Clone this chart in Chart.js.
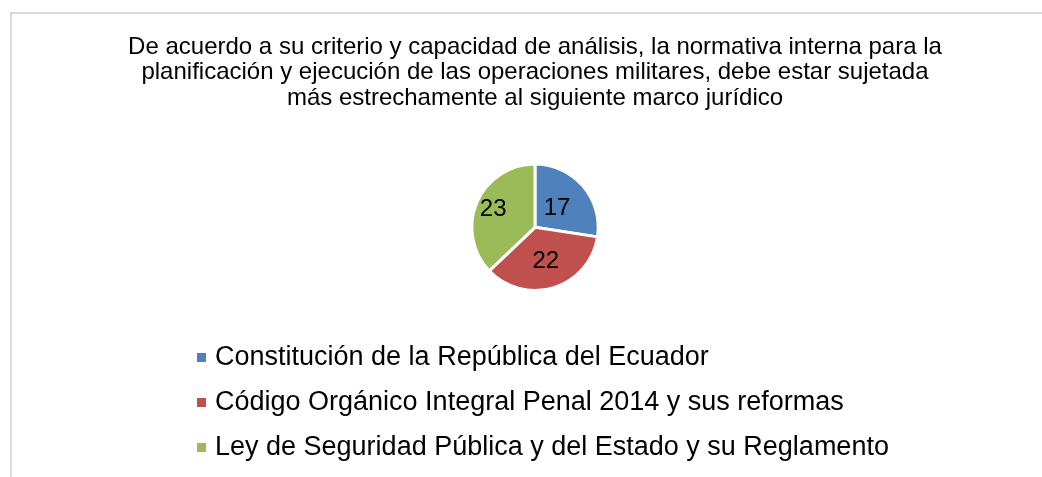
<!DOCTYPE html>
<html>
<head>
<meta charset="utf-8">
<script src="https://cdn.jsdelivr.net/npm/chart.js@4/dist/chart.umd.min.js"></script>
<style>
    html, body { margin: 0; padding: 0; background: #fff; }
    .wrap { position: relative; width: 1042px; height: 477px; }
    .frame { position: absolute; left: 10px; top: 12px; right: 0; bottom: 0;
             border-top: 2px solid #d9d9d9; border-left: 2px solid #d9d9d9; }
    canvas { position: absolute; left: 0; top: 0; }
</style>
</head>
<body>
<div class="wrap">
    <div class="frame"></div>
    <canvas id="myChart" width="1042" height="477"></canvas>
</div>
<script>
const titleLines = [
    'De acuerdo a su criterio y capacidad de análisis, la normativa interna para la',
    'planificación y ejecución de las operaciones militares, debe estar sujetada',
    'más estrechamente al siguiente marco jurídico'
]
const categories = [
    'Constitución de la República del Ecuador',
    'Código Orgánico Integral Penal 2014 y sus reformas',
    'Ley de Seguridad Pública y del Estado y su Reglamento'
]
const values = [17, 22, 23]
const colors = ['#4F81BD', '#C0504D', '#9BBB59']

const FONT = '"Liberation Sans", Arial, sans-serif'

// numbers inside the slices (excel "best fit" puts them at different depths)
const labelDepth = [0.46, 0.57, 0.72]
const sliceLabels = {
    id: 'sliceLabels',
    afterDatasetsDraw(chart) {
        const ctx = chart.ctx
        const meta = chart.getDatasetMeta(0)
        ctx.save()
        ctx.font = '24px ' + FONT
        ctx.fillStyle = '#000'
        ctx.textAlign = 'center'
        ctx.textBaseline = 'middle'
        meta.data.forEach((arc, i) => {
            const mid = (arc.startAngle + arc.endAngle) / 2
            const r = arc.outerRadius * labelDepth[i]
            ctx.fillText(String(values[i]), arc.x + Math.cos(mid) * r, arc.y + Math.sin(mid) * r)
        })
        ctx.restore()
    }
}

// stacked, left-aligned legend like the original
const stackLegend = {
    id: 'stackLegend',
    afterDraw(chart) {
        const ctx = chart.ctx
        const x = 197, y0 = 357, step = 45
        ctx.save()
        ctx.font = '27px ' + FONT
        ctx.textBaseline = 'middle'
        chart.data.labels.forEach((label, i) => {
            const y = y0 + i * step
            ctx.fillStyle = chart.data.datasets[0].backgroundColor[i]
            ctx.fillRect(x, y - 4, 9, 9)
            ctx.fillStyle = '#000'
            ctx.fillText(label, x + 18, y + 1)
        })
        ctx.restore()
    }
}

new Chart(document.getElementById('myChart'), {
    type: 'pie',
    data: {
        labels: categories,
        datasets: [{
            data: values,
            backgroundColor: colors,
            borderColor: '#fff',
            borderWidth: 3
        }]
    },
    options: {
        responsive: false,
        animation: false,
        layout: { padding: { left: 28, right: 0, top: 0, bottom: 185 } },
        plugins: {
            legend: { display: false },
            tooltip: { enabled: false },
            title: {
                display: true,
                text: titleLines,
                color: '#000',
                font: { family: FONT, size: 24, weight: 'normal', lineHeight: 1.05 },
                padding: { top: 35, bottom: 52 }
            }
        }
    },
    plugins: [sliceLabels, stackLegend]
})
</script>
</body>
</html>
